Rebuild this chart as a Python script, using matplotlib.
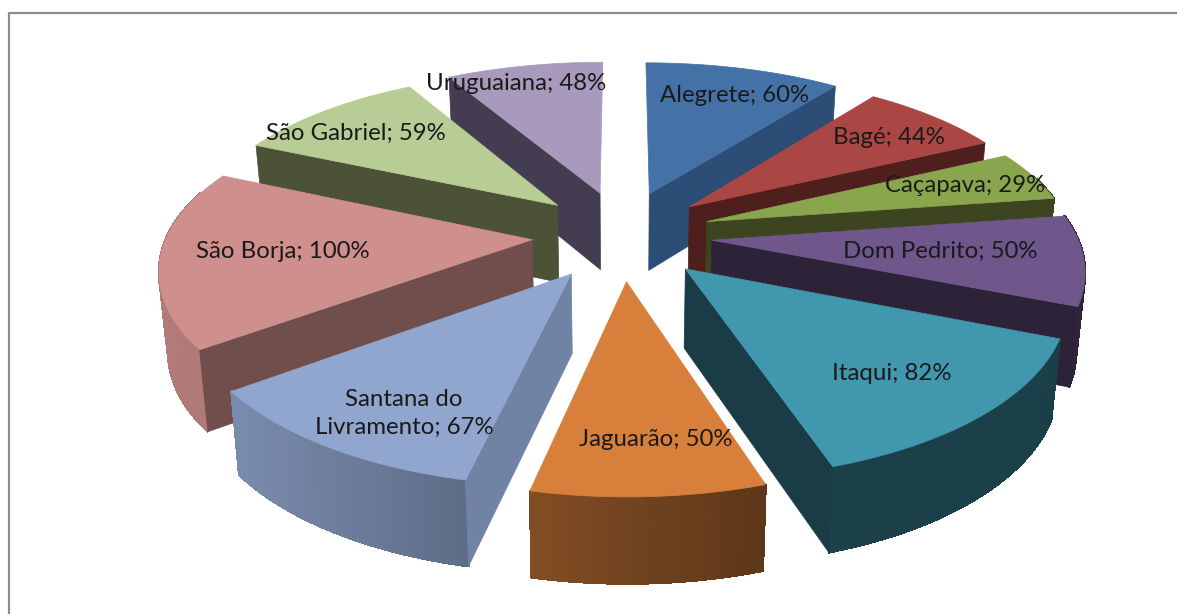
import numpy as np
import matplotlib
matplotlib.use('Agg')
import matplotlib.pyplot as plt

plt.rcParams['font.family'] = ['Lato', 'DejaVu Sans']

# Data
cities = ['Alegrete', 'Bagé', 'Caçapava', 'Dom Pedrito', 'Itaqui', 'Jaguarão',
          'Santana do\nLivramento', 'São Borja', 'São Gabriel', 'Uruguaiana']
values = [60, 44, 29, 50, 82, 50, 67, 100, 59, 48]

top_colors = ['#4472a6', '#aa4644', '#89a54e', '#6f568b', '#4197ae',
              '#d8803b', '#90a6ce', '#cf8f8d', '#b8cc95', '#a89abc']
wall_colors = ['#2c4d75', '#4f1f1d', '#3c4420', '#2d2339', '#1a3c47',
               '#7a4a20', '#7083a5', '#6f4e4c', '#4b5235', '#443c50']

label_pos = [(735, 95), (889, 137), (965, 185), (940, 251), (892, 373),
             (656, 440), (404, 413), (283, 252), (356, 133), (516, 84)]

# Pie geometry, in picture pixels
CX, CY = 622, 235
RADIUS = 365
RADIUS_Y_FAR = 322
RADIUS_Y_NEAR = 334
EXPLODE = 90
TILT = 0.5
DEPTH = 78
PERSP = 0.00045


def project(x, y, z=0.0):
    """Project disc coordinates (y pointing away from the viewer) on the picture."""
    s = 1 / (1 + PERSP * y)
    return CX + x * s * (1 - 0.00025 * z), CY - y * TILT * s + z * np.sqrt(s)


def darken(color, f):
    rgb = np.array(matplotlib.colors.to_rgb(color))
    return tuple(rgb * f)


def rim_shade(sx):
    return np.interp(sx, [160, 233, 467, 765, 1060], [0.86, 0.84, 0.65, 0.43, 0.42])


def disc_point(ox, oy, angle):
    c = np.cos(angle)
    ry = np.where(c > 0, RADIUS_Y_FAR, RADIUS_Y_NEAR)
    return ox + RADIUS * np.sin(angle), oy + ry * c


def draw_slice(ax, a, b, top, wall):
    mid = (a + b) / 2
    ox, oy = EXPLODE * np.sin(mid), EXPLODE * np.cos(mid)
    t = np.linspace(a, b, 80)
    xs, ys = disc_point(ox, oy, t)

    def wall_poly(angle):
        rx, ry = disc_point(ox, oy, angle)
        pts = [project(ox, oy), project(rx, ry), project(rx, ry, DEPTH), project(ox, oy, DEPTH)]
        return zip(*pts)

    # rim, split in strips for the gradient; the far part is hidden anyway
    for i in range(len(t) - 1):
        if np.cos(t[i]) > 0.3 and np.cos(t[i + 1]) > 0.3:
            continue
        x0, y0 = project(xs[i], ys[i])
        x1, y1 = project(xs[i + 1], ys[i + 1])
        x2, y2 = project(xs[i + 1], ys[i + 1], DEPTH)
        x3, y3 = project(xs[i], ys[i], DEPTH)
        col = darken(top, rim_shade((x0 + x1) / 2))
        ax.fill([x0, x1, x2, x3], [y0, y1, y2, y3], color=col, lw=1.0, antialiased=False)

    if np.sin(a) < 0:
        wx, wy = wall_poly(a)
        ax.fill(wx, wy, color=wall, lw=0.5)
    if np.sin(b) > 0:
        wx, wy = wall_poly(b)
        ax.fill(wx, wy, color=wall, lw=0.5)

    px, py = project(np.r_[ox, xs], np.r_[oy, ys])
    ax.fill(px, py, color=top, lw=0.5)


fig = plt.figure(figsize=(11.77, 6.14), dpi=100)
ax = fig.add_axes([0, 0, 1, 1])
ax.set_xlim(0, 1177)
ax.set_ylim(614, 0)
ax.axis('off')

# chart frame
ax.plot([8.5, 8.5, 1177], [614, 12.5, 12.5], color='#8c8c8c', lw=1.6)

edges = np.r_[0, np.cumsum(values)] / np.sum(values) * 2 * np.pi
mids = (edges[:-1] + edges[1:]) / 2
for i in np.argsort(-np.cos(mids)):
    draw_slice(ax, edges[i], edges[i + 1], top_colors[i], wall_colors[i])

for city, val, (lx, ly) in zip(cities, values, label_pos):
    ax.text(lx, ly, f'{city}; {val}%', ha='center', va='center', fontsize=17.3,
            color='#1a1a1a', linespacing=1.4)

fig.savefig('out.png', dpi=100)
